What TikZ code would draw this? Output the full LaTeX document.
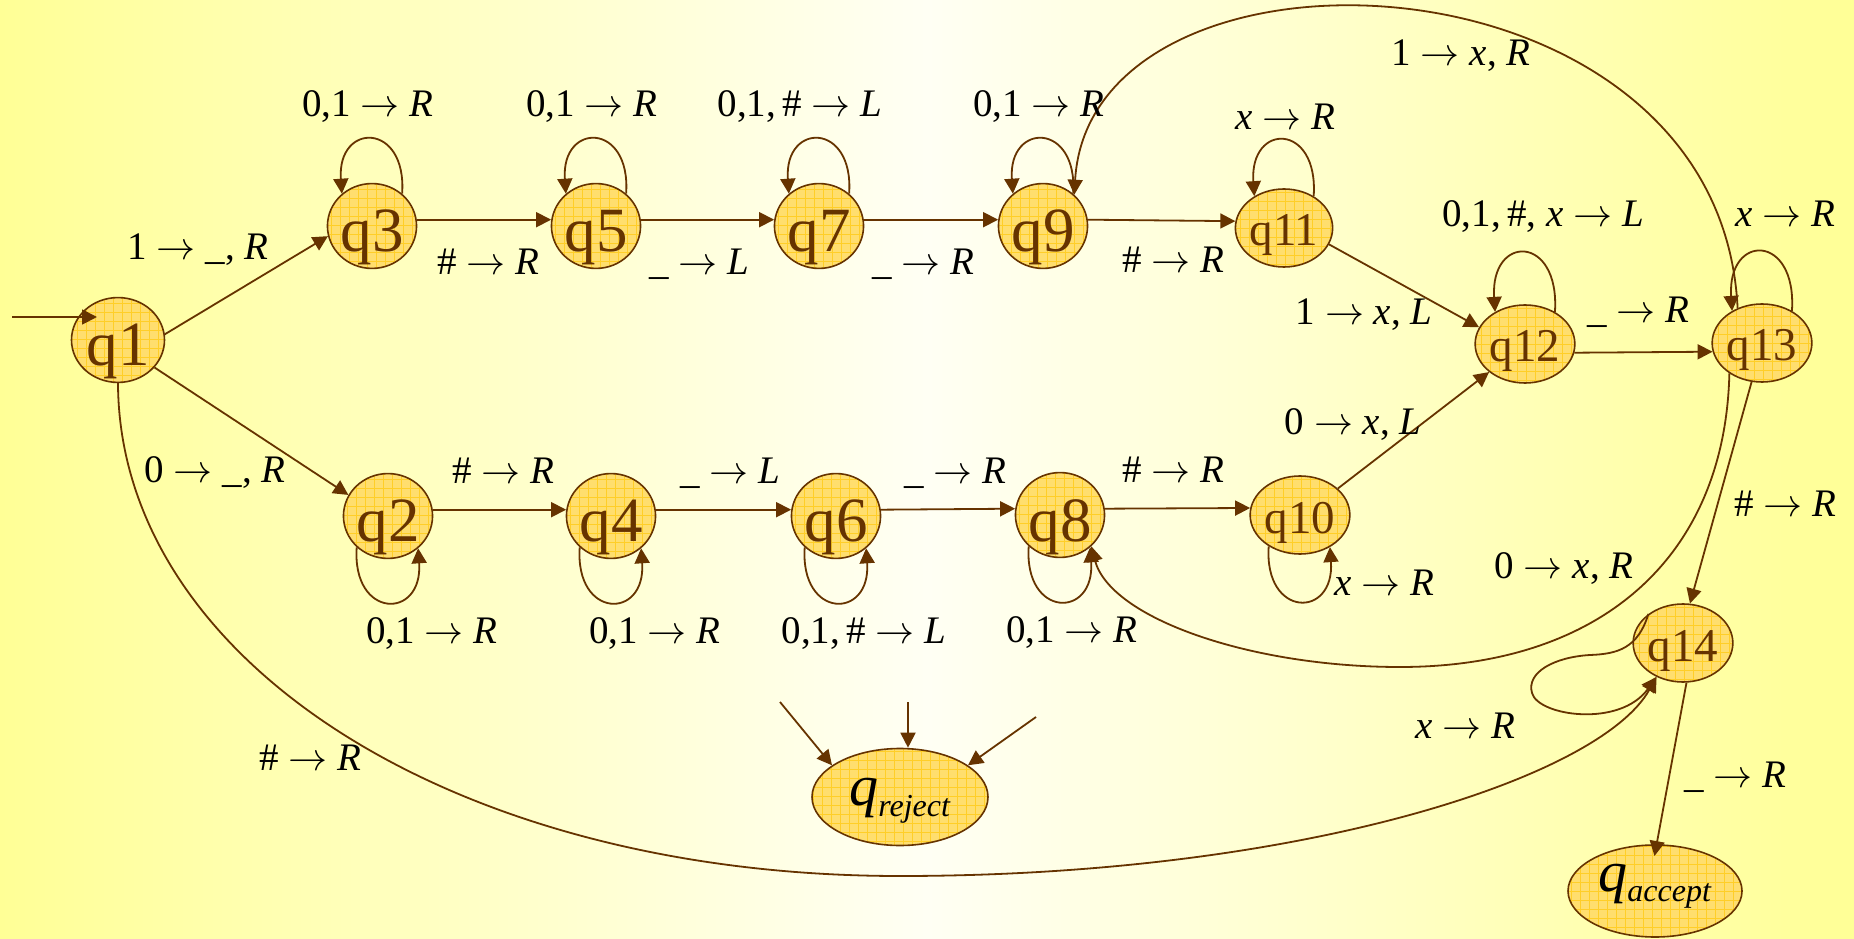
\documentclass[tikz,border=0pt]{standalone}
\usepackage{fix-cm}
\usepackage{fontspec}
\setmainfont{Liberation Serif}
\usetikzlibrary{arrows.meta,shapes.geometric}
\definecolor{brd}{RGB}{102,51,0}
\definecolor{nodefill}{RGB}{255,222,110}
\definecolor{gridc}{RGB}{255,206,40}
\definecolor{bgY}{RGB}{255,255,150}
\definecolor{bgW}{RGB}{255,255,244}
\newcommand{\tto}{$\rightarrow$}
\begin{document}
\begin{tikzpicture}[x=1pt,y=1pt,
  tmstate/.style={ellipse, draw=brd, line width=1.6pt, fill=nodefill,
    minimum width=87pt, minimum height=78pt, inner sep=0pt, text=brd,
    font=\fontsize{63}{63}\selectfont, text height=56pt, text depth=4pt,
    path picture={\draw[gridc, line width=0.5pt, step=9pt]
      (path picture bounding box.south west) grid (path picture bounding box.north east);}},
  tmstatetwo/.style={tmstate, font=\fontsize{47}{47}\selectfont, text height=40pt, text depth=4pt},
  bigstate/.style={tmstate, text=black, font=\fontsize{58}{58}\selectfont},
  lbl/.style={font=\fontsize{39}{44}\selectfont, anchor=base, inner sep=0pt},
  tmedge/.style={draw=brd, line width=1.8pt, -{Triangle[length=15pt,width=15pt]}},
]
% background
\shade[left color=bgY, right color=bgW] (0,0) rectangle (927,938);
\shade[left color=bgW, right color=bgY] (927,0) rectangle (1854,938);
\useasboundingbox (0,0) rectangle (1854,938);

% states
\node[tmstate, minimum width=93pt] (q1) at (118,598) {q1};
\node[tmstate] (q3) at (372,712) {q3};
\node[tmstate] (q5) at (596,712) {q5};
\node[tmstate] (q7) at (819,712) {q7};
\node[tmstate] (q9) at (1043,712) {q9};
\node[tmstatetwo] (q11) at (1284,710) {q11};
\node[tmstatetwo] (q12) at (1525,594) {q12};
\node[tmstatetwo] (q13) at (1762,595) {q13};
\node[tmstate] (q2) at (388,422) {q2};
\node[tmstate] (q4) at (611,422) {q4};
\node[tmstate] (q6) at (836,422) {q6};
\node[tmstate] (q8) at (1060,423) {q8};
\node[tmstatetwo] (q10) at (1300,423) {q10};
\node[tmstatetwo] (q14) at (1683,295) {q14};
\node[bigstate, minimum width=176pt, minimum height=97pt, text height=28pt, text depth=12pt] (qreject) at (900,141)
  {\textit{q}\raisebox{-11pt}{\fontsize{32}{32}\selectfont\textit{reject}}};
\node[bigstate, minimum width=174pt, minimum height=92pt, text height=20pt, text depth=20pt] (qaccept) at (1655,47)
  {\textit{q}\raisebox{-10pt}{\fontsize{32}{32}\selectfont\textit{accept}}};

% start arrow
\coordinate (init) at (12,621);
\draw[tmedge, shorten >=21pt] (init) -- (init -| q1.center);

% straight transitions
\draw[tmedge] (q1.7) -- (q3.193);
\draw[tmedge] (q1.-37) -- (q2.152);
\draw[tmedge] (q3.8) -- (q5.172);
\draw[tmedge] (q5.8) -- (q7.172);
\draw[tmedge] (q7.8) -- (q9.172);
\draw[tmedge] (q9.8) -- (q11.172);
\draw[tmedge] (q2.8) -- (q4.172);
\draw[tmedge] (q4.8) -- (q6.172);
\draw[tmedge] (q6.8) -- (q8.172);
\draw[tmedge] (q8.8) -- (q10.172);
\draw[tmedge] (q11.-20) -- (q12.160);
\draw[tmedge] (q10.35) -- (q12.218);
\draw[tmedge] (q12.-10) -- (q13.190);
\draw[tmedge] (q13.255) -- (q14.80);
\draw[tmedge, shorten >=-12pt] (q14.275) -- (qaccept.88);

% curved transitions
\draw[tmedge] (q13.125) .. controls (1720,998) and (1090,1018) .. (q9.45);
\draw[tmedge] (q13.223) .. controls (1725,380) and (1600,271) .. (1400,271)
  .. controls (1250,271) and (1110,320) .. (q8.-45);
\draw[tmedge] (q1.south) .. controls (119,280) and (450,62) .. (900,62)
  .. controls (1300,62) and (1600,160) .. (q14.232);

% self loops, top row
\draw[tmedge] (q3.47) .. controls +(5,72) and +(-5,72) .. (q3.133);
\draw[tmedge] (q5.47) .. controls +(5,72) and +(-5,72) .. (q5.133);
\draw[tmedge] (q7.47) .. controls +(5,72) and +(-5,72) .. (q7.133);
\draw[tmedge] (q9.47) .. controls +(5,72) and +(-5,72) .. (q9.133);
\draw[tmedge] (q11.47) .. controls +(5,74) and +(-5,74) .. (q11.133);
\draw[tmedge] (q12.47) .. controls +(5,78) and +(-5,78) .. (q12.133);
\draw[tmedge] (q13.47) .. controls +(5,78) and +(-5,78) .. (q13.133);
% self loops, bottom row
\draw[tmedge] (q2.225) .. controls +(-5,-72) and +(5,-72) .. (q2.-47);
\draw[tmedge] (q4.225) .. controls +(-5,-72) and +(5,-72) .. (q4.-47);
\draw[tmedge] (q6.225) .. controls +(-5,-72) and +(5,-72) .. (q6.-47);
\draw[tmedge] (q8.225) .. controls +(-5,-72) and +(5,-72) .. (q8.-47);
\draw[tmedge] (q10.225) .. controls +(-5,-72) and +(5,-72) .. (q10.-47);
% q14 loop
\draw[tmedge] (q14.140) .. controls (1638,290) and (1618,284) .. (1590,283)
  .. controls (1555,281) and (1526,266) .. (1532,245)
  .. controls (1538,222) and (1620,210) .. (q14.232);

% arrows into q_reject
\coordinate (r1) at (780,236);
\coordinate (r2) at (908,236);
\coordinate (r3) at (1036,221);
\draw[tmedge] (r1) -- (qreject.155);
\draw[tmedge] (r2) -- (r2 |- qreject.north);
\draw[tmedge] (r3) -- (qreject.25);

% labels
\node[lbl] (l1) at (198,678) {1 \tto{} \_, \textit{R}};
\node[lbl] (l2) at (215,455) {0 \tto{} \_, \textit{R}};
\node[lbl] (l3) at (310,168) {\# \tto{} \textit{R}};
\node[lbl] (l4) at (368,821) {0,1 \tto{} \textit{R}};
\node[lbl] (l5) at (592,821) {0,1 \tto{} \textit{R}};
\node[lbl] (l6) at (800,821) {0,1,\,\# \tto{} \textit{L}};
\node[lbl] (l7) at (1039,821) {0,1 \tto{} \textit{R}};
\node[lbl] (l8) at (1285,808) {\textit{x} \tto{} \textit{R}};
\node[lbl] (l9) at (1461,872) {1 \tto{} \textit{x}, \textit{R}};
\node[lbl] (l10) at (1543,711) {0,1,\,\#, \textit{x} \tto{} \textit{L}};
\node[lbl] (l11) at (1785,711) {\textit{x} \tto{} \textit{R}};
\node[lbl] (l12) at (1638,615) {\_ \tto{} \textit{R}};
\node[lbl] (l13) at (1364,613) {1 \tto{} \textit{x}, \textit{L}};
\node[lbl] (l14) at (488,663) {\# \tto{} \textit{R}};
\node[lbl] (l15) at (699,663) {\_ \tto{} \textit{L}};
\node[lbl] (l16) at (923,663) {\_ \tto{} \textit{R}};
\node[lbl] (l17) at (1173,665) {\# \tto{} \textit{R}};
\node[lbl] (l18) at (503,454) {\# \tto{} \textit{R}};
\node[lbl] (l19) at (730,454) {\_ \tto{} \textit{L}};
\node[lbl] (l20) at (955,454) {\_ \tto{} \textit{R}};
\node[lbl] (l21) at (1173,455) {\# \tto{} \textit{R}};
\node[lbl] (l22) at (1353,503) {0 \tto{} \textit{x}, \textit{L}};
\node[lbl] (l23) at (1384,343) {\textit{x} \tto{} \textit{R}};
\node[lbl] (l24) at (432,295) {0,1 \tto{} \textit{R}};
\node[lbl] (l25) at (655,295) {0,1 \tto{} \textit{R}};
\node[lbl] (l26) at (864,295) {0,1,\,\# \tto{} \textit{L}};
\node[lbl] (l27) at (1072,296) {0,1 \tto{} \textit{R}};
\node[lbl] (l28) at (1564,360) {0 \tto{} \textit{x}, \textit{R}};
\node[lbl] (l29) at (1785,421) {\# \tto{} \textit{R}};
\node[lbl] (l30) at (1465,200) {\textit{x} \tto{} \textit{R}};
\node[lbl] (l31) at (1735,151) {\_ \tto{} \textit{R}};
\end{tikzpicture}
\end{document}
